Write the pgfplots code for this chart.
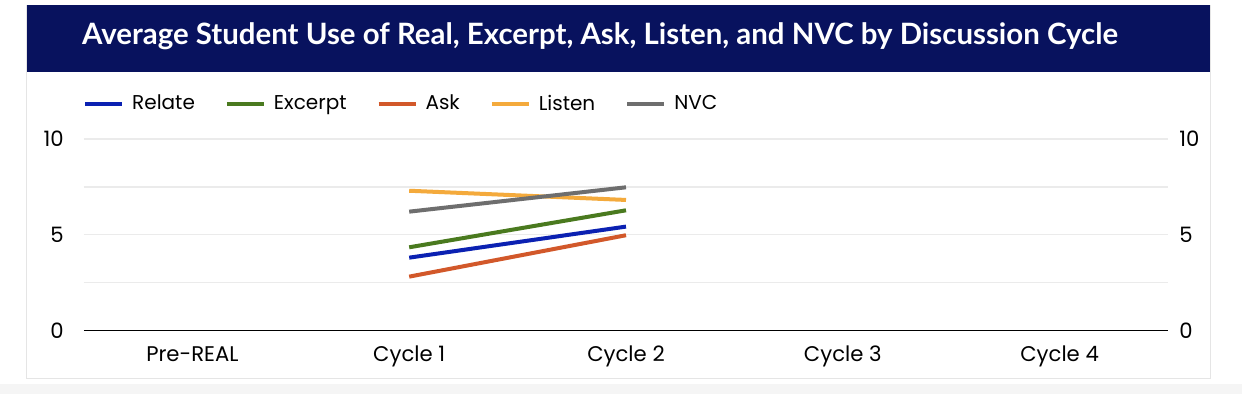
\documentclass[border=0pt]{standalone}
\usepackage{pgfplots}
\pgfplotsset{compat=1.18}
\usepackage{fontspec}
\setmainfont{Poppins}
\newfontfamily\titlefont{Lato}
\definecolor{banner}{HTML}{08125E}
\definecolor{crelate}{HTML}{0B21B2}
\definecolor{cexcerpt}{HTML}{4A7A1F}
\definecolor{cask}{HTML}{D2582A}
\definecolor{clisten}{HTML}{F4AA3C}
\definecolor{cnvc}{HTML}{6E6E6E}
\definecolor{gridc}{HTML}{EBEBEB}
\begin{document}
\begin{tikzpicture}
% background (1px = 0.5pt; picture 621pt x 197pt)
\fill[white] (0,0) rectangle (621pt,197pt);
\fill[black!4] (0,0) rectangle (621pt,5pt);
% card shadow and card
\fill[black!10] (13pt,7.3pt) rectangle (605.6pt,194.5pt);
\fill[white] (13.5pt,8pt) rectangle (605pt,194.5pt);
% banner
\fill[banner] (13.5pt,161pt) rectangle (605pt,194.5pt);
\node[text=white, font=\titlefont\bfseries\fontsize{14.7}{16}\selectfont] at (300pt,179pt) {Average Student Use of Real, Excerpt, Ask, Listen, and NVC by Discussion Cycle};
\begin{axis}[
  at={(42pt,31.65pt)}, anchor=south west,
  scale only axis, width=542pt, height=95.85pt,
  xmin=-0.5, xmax=4.5, ymin=0, ymax=10,
  axis line style={draw=none},
  xtick={0,1,2,3,4},
  xticklabels={Pre-REAL,Cycle 1,Cycle 2,Cycle 3,Cycle 4},
  ytick={0,5,10}, minor ytick={2.5,7.5},
  ymajorgrids, yminorgrids,
  major grid style={gridc, line width=0.6pt},
  minor grid style={gridc, line width=0.6pt},
  extra y ticks={0}, extra y tick labels={},
  extra y tick style={ymajorgrids, major grid style={black, line width=0.75pt}},
  major tick length=0pt, minor tick length=0pt,
  tick style={draw=none},
  /pgf/number format/assume math mode=true,
  ticklabel style={font=\fontsize{10.6}{12}\selectfont, inner sep=0pt},
  xticklabel style={anchor=base, yshift=-15.2pt},
  yticklabel style={anchor=base east, xshift=-10pt, yshift=-3.8pt},
  legend style={at={(-0.0066,1.183)}, anchor=west, draw=none, fill=none,
    legend columns=-1, font=\fontsize{10}{12}\selectfont,
    nodes={inner sep=0pt},
    /tikz/every odd column/.append style={column sep=4pt},
    /tikz/every even column/.append style={column sep=15pt}},
  legend image code/.code={\draw[#1, line width=2pt] (0pt,0pt) -- (18.5pt,0pt);},
  every axis plot/.append style={line width=2pt},
]
\addplot[crelate] coordinates {(1,3.81) (2,5.43)};
\addlegendentry{Relate}
\addplot[cexcerpt] coordinates {(1,4.35) (2,6.28)};
\addlegendentry{Excerpt}
\addplot[cask] coordinates {(1,2.82) (2,4.98)};
\addlegendentry{Ask}
\addplot[clisten] coordinates {(1,7.30) (2,6.82)};
\addlegendentry{Listen}
\addplot[cnvc] coordinates {(1,6.21) (2,7.48)};
\addlegendentry{NVC}
\end{axis}
\begin{axis}[
  at={(42pt,31.65pt)}, anchor=south west,
  scale only axis, width=542pt, height=95.85pt,
  xmin=-0.5, xmax=4.5, ymin=0, ymax=10,
  axis line style={draw=none},
  hide x axis,
  ytick={0,5,10},
  yticklabel pos=right,
  major tick length=0pt,
  tick style={draw=none},
  /pgf/number format/assume math mode=true,
  yticklabel style={font=\fontsize{10.6}{12}\selectfont, inner sep=0pt, anchor=base west, xshift=5.5pt, yshift=-3.8pt},
]
\addplot[draw=none] coordinates {(0,0)};
\end{axis}
\end{tikzpicture}
\end{document}
